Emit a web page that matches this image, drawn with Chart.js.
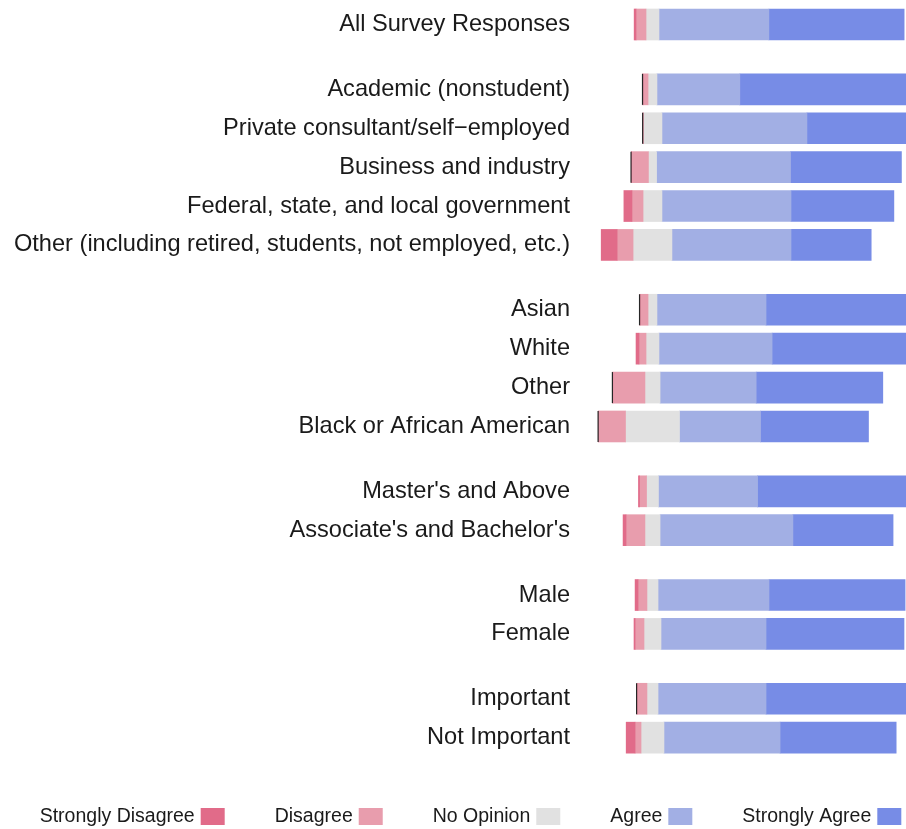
<!DOCTYPE html>
<html>
<head>
<meta charset="utf-8">
<script src="https://cdn.jsdelivr.net/npm/chart.js@4.4.1/dist/chart.umd.min.js"></script>
<style>
html,body{margin:0;padding:0;background:#ffffff;}
#wrap{width:906px;height:829px;position:relative;overflow:hidden;}
canvas{display:block;}
</style>
</head>
<body>
<div id="wrap"><canvas id="c" width="906" height="829"></canvas></div>
<script>
// ---------- DATA ----------
const categories = [
  "All Survey Responses",
  "Academic (nonstudent)",
  "Private consultant/self\u2212employed",
  "Business and industry",
  "Federal, state, and local government",
  "Other (including retired, students, not employed, etc.)",
  "Asian",
  "White",
  "Other",
  "Black or African American",
  "Master's and Above",
  "Associate's and Bachelor's",
  "Male",
  "Female",
  "Important",
  "Not Important"
];
const groups = [
  "Overall",
  "Employment","Employment","Employment","Employment","Employment",
  "Race","Race","Race","Race",
  "Education","Education",
  "Gender","Gender",
  "Importance","Importance"
];
const seriesNames = ["Strongly Disagree","Disagree","No Opinion","Agree","Strongly Agree"];
const stronglyDisagree = [0.7, 0,   0,   0,   3.0, 5.9,  0,   1.1, 0,    0,  0.4, 1.1, 1.1, 0.4, 0,   3.3];
const disagree         = [3.7, 1.9, 0,   6.3, 4.1, 5.9,  3.0, 2.6, 11.9, 10, 2.6, 7.0, 3.3, 3.3, 3.7, 2.2];
const noOpinion        = [4.8, 3.3, 7.0, 3.0, 7.0, 14.4, 3.3, 4.8, 5.6,  20, 4.4, 5.6, 4.1, 6.3, 4.1, 8.5];
const agree            = [40.7,30.7,53.7,49.6,47.8,44.1, 40.4,41.9,35.6, 30, 36.7,49.2,41.1,38.9,40.0,43.0];
const stronglyAgree    = [50.1,64.1,39.3,41.1,38.1,29.7, 53.3,49.6,46.9, 40, 55.9,37.1,50.4,51.1,52.2,43.0];

// ---------- STYLE ----------
const colors = ["#e16b89", "#e89dad", "#e1e1e1", "#a2afe4", "#778ce6"];
const FONT = '"Liberation Sans", Arial, Helvetica, sans-serif';
const W = 906;
const BOTTOM_PAD = 60;
const AXIS_W = 580;
const PX_PER_PCT = 2.7;
const CENTER_PX = 652.5;
const ROW_PX = 38.9;
const FIRST_ROW_PX = 24.5;

// ---------- DERIVED ----------
const values = [stronglyDisagree, disagree, noOpinion, agree, stronglyAgree];
// row positions on the index axis: 1 unit per row, extra 2/3 between groups
const positions = [];
let p = 0;
categories.forEach((c, i) => {
  if (i > 0) p += (groups[i] !== groups[i - 1]) ? 5 / 3 : 1;
  positions.push(p);
});
// diverging start: centre of "No Opinion" at 0
const starts = categories.map((c, i) => -(stronglyDisagree[i] + disagree[i] + noOpinion[i] / 2));

const datasets = seriesNames.map((name, k) => ({
  label: name,
  data: categories.map((c, i) => {
    let s = starts[i];
    for (let j = 0; j < k; j++) s += values[j][i];
    return { x: [s, s + values[k][i]], y: positions[i] };
  }),
  backgroundColor: colors[k],
  borderWidth: 0,
  barThickness: 31,
  grouped: false
}));

const X_MIN = -(CENTER_PX - AXIS_W) / PX_PER_PCT;
const X_MAX = X_MIN + (W - AXIS_W) / PX_PER_PCT;

const zeroMark = {
  id: 'zeroMark',
  afterDatasetsDraw(chart) {
    const xs = chart.scales.x, ys = chart.scales.y, ctx = chart.ctx;
    ctx.save();
    ctx.strokeStyle = '#262626';
    ctx.lineWidth = 1.2;
    categories.forEach((c, i) => {
      if (stronglyDisagree[i] === 0) {
        const px = xs.getPixelForValue(starts[i]) - 0.4;
        const py = ys.getPixelForValue(positions[i]);
        ctx.beginPath();
        ctx.moveTo(px, py - 15.5);
        ctx.lineTo(px, py + 15.5);
        ctx.stroke();
      }
    });
    ctx.restore();
  }
};

const bottomLegend = {
  id: 'bottomLegend',
  afterDraw(chart) {
    const ctx = chart.ctx;
    ctx.save();
    ctx.font = '19.5px ' + FONT;
    ctx.textBaseline = 'middle';
    ctx.textAlign = 'left';
    const boxW = 24, boxH = 17, textGap = 6, itemGap = 50;
    const widths = seriesNames.map(n => ctx.measureText(n).width);
    const total = widths.reduce((a, w) => a + w + textGap + boxW, 0) + itemGap * (seriesNames.length - 1);
    let x = 470.5 - total / 2;
    const cy = chart.height - 12.5;
    seriesNames.forEach((n, k) => {
      ctx.fillStyle = '#1a1a1a';
      ctx.fillText(n, x, cy);
      x += widths[k] + textGap;
      ctx.fillStyle = colors[k];
      ctx.fillRect(x, cy - boxH / 2, boxW, boxH);
      x += boxW + itemGap;
    });
    ctx.restore();
  }
};

new Chart(document.getElementById('c'), {
  type: 'bar',
  data: { datasets },
  options: {
    indexAxis: 'y',
    responsive: false,
    animation: false,
    devicePixelRatio: 1,
    layout: { padding: { left: 0, right: 0, top: 0, bottom: BOTTOM_PAD } },
    scales: {
      x: { type: 'linear', display: false, min: X_MIN, max: X_MAX },
      y: {
        type: 'linear',
        reverse: true,
        bounds: 'data',
        offset: false,
        grid: { display: false, drawTicks: false, offset: false },
        border: { display: false },
        afterDataLimits: s => {
          s.min = -FIRST_ROW_PX / ROW_PX;
          s.max = s.min + s.height / ROW_PX;
        },
        afterFit: s => { s.width = AXIS_W; s.paddingTop = 0; s.paddingBottom = 0; },
        afterBuildTicks: s => { s.ticks = positions.map(v => ({ value: v })); },
        ticks: {
          autoSkip: false,
          padding: 10,
          color: '#1a1a1a',
          font: { size: 23.6, family: FONT },
          callback: (v, i) => categories[i]
        }
      }
    },
    plugins: {
      legend: { display: false },
      tooltip: { enabled: false }
    }
  },
  plugins: [zeroMark, bottomLegend]
});
</script>
</body>
</html>
